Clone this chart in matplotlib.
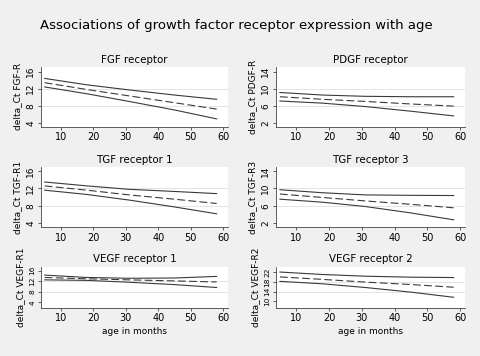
import matplotlib
matplotlib.use('Agg')
import matplotlib.pyplot as plt

age = [5, 18, 31, 45, 58]

titles = ['FGF receptor', 'PDGF receptor', 'TGF receptor 1', 'TGF receptor 3',
          'VEGF receptor 1', 'VEGF receptor 2']
ylabels = ['delta_Ct FGF-R', 'delta_Ct PDGF-R', 'delta_Ct TGF-R1', 'delta_Ct TGF-R3',
           'delta_Ct VEGF-R1', 'delta_Ct VEGF-R2']
yticks = [[4, 8, 12, 16], [2, 6, 10, 14], [4, 8, 12, 16], [2, 6, 10, 14],
          [4, 8, 12, 16], [10, 14, 18, 22]]

# upper CI, fit, lower CI for each receptor
fgf_upper = [14.4, 12.9, 11.7, 10.5, 9.5]
fgf_fit = [13.4, 11.8, 10.3, 8.7, 7.2]
fgf_lower = [12.4, 10.8, 9.0, 7.0, 4.9]

pdgf_upper = [9.1, 8.5, 8.2, 8.1, 8.1]
pdgf_fit = [8.1, 7.5, 7.0, 6.4, 5.9]
pdgf_lower = [7.1, 6.6, 5.8, 4.7, 3.6]

tgf1_upper = [13.5, 12.6, 11.8, 11.3, 10.8]
tgf1_fit = [12.6, 11.6, 10.5, 9.5, 8.5]
tgf1_lower = [11.6, 10.6, 9.3, 7.7, 6.1]

tgf3_upper = [9.7, 9.0, 8.5, 8.4, 8.35]
tgf3_fit = [8.7, 7.9, 7.1, 6.3, 5.5]
tgf3_lower = [7.5, 6.8, 5.8, 4.3, 2.7]

vegf1_upper = [14.3, 13.4, 13.1, 13.2, 13.8]
vegf1_fit = [13.4, 12.9, 12.5, 12.1, 11.7]
vegf1_lower = [12.5, 12.3, 11.6, 10.7, 9.6]

vegf2_upper = [22.0, 21.0, 20.3, 19.9, 19.75]
vegf2_fit = [20.0, 19.0, 17.9, 16.9, 15.8]
vegf2_lower = [18.2, 17.2, 15.7, 13.8, 11.7]

series = [
    (fgf_upper, fgf_fit, fgf_lower),
    (pdgf_upper, pdgf_fit, pdgf_lower),
    (tgf1_upper, tgf1_fit, tgf1_lower),
    (tgf3_upper, tgf3_fit, tgf3_lower),
    (vegf1_upper, vegf1_fit, vegf1_lower),
    (vegf2_upper, vegf2_fit, vegf2_lower),
]

ylims = [(3.06, 17.1), (1.06, 15.1), (3.0, 17.0), (1.0, 15.0), (2.0, 17.5), (7.5, 24.2)]

bg = '#f0f0f0'
fig = plt.figure(figsize=(4.8, 3.56), dpi=100, facecolor=bg)
fig.text(0.083, 0.927, 'Associations of growth factor receptor expression with age',
         fontsize=9.5, va='center', ha='left')

lefts = [0.085, 0.575]
widths = [0.390, 0.394]
bottoms = [0.644, 0.362, 0.136]
heights = [0.168, 0.169, 0.115]

for i in range(6):
    row, col = i // 2, i % 2
    ax = fig.add_axes([lefts[col], bottoms[row], widths[col], heights[row]])
    ax.set_facecolor('white')
    upper, fit, lower = series[i]
    for t in yticks[i][1:-1]:
        ax.axhline(t, color='#e4e4e4', lw=0.7, zorder=0)
    ax.plot(age, upper, color='#3a3a3a', lw=0.8)
    ax.plot(age, fit, color='#3a3a3a', lw=0.8, dashes=(7, 3))
    ax.plot(age, lower, color='#3a3a3a', lw=0.8)
    ax.set_xlim(3.8, 61.5)
    ax.set_ylim(*ylims[i])
    ax.set_xticks([10, 20, 30, 40, 50, 60])
    ax.set_yticks(yticks[i])
    ax.tick_params(labelsize=7, length=2.5, width=0.6, pad=1.5, color='#444444')
    # short bottom row: labels squeezed like in the original
    ysize = 6.5 if row < 2 else 5.3
    plt.setp(ax.get_yticklabels(), rotation=90, va='center', fontsize=ysize)
    for s in ['top', 'right']:
        ax.spines[s].set_visible(False)
    for s in ['left', 'bottom']:
        ax.spines[s].set_color('#444444')
        ax.spines[s].set_linewidth(0.6)
    ax.set_title(titles[i], fontsize=7.4, pad=3)
    ax.set_ylabel(ylabels[i], fontsize=6.5, labelpad=3)
    if row == 2:
        ax.set_xlabel('age in months', fontsize=6.5, labelpad=3)

fig.savefig('out.png', dpi=100, facecolor=bg)
